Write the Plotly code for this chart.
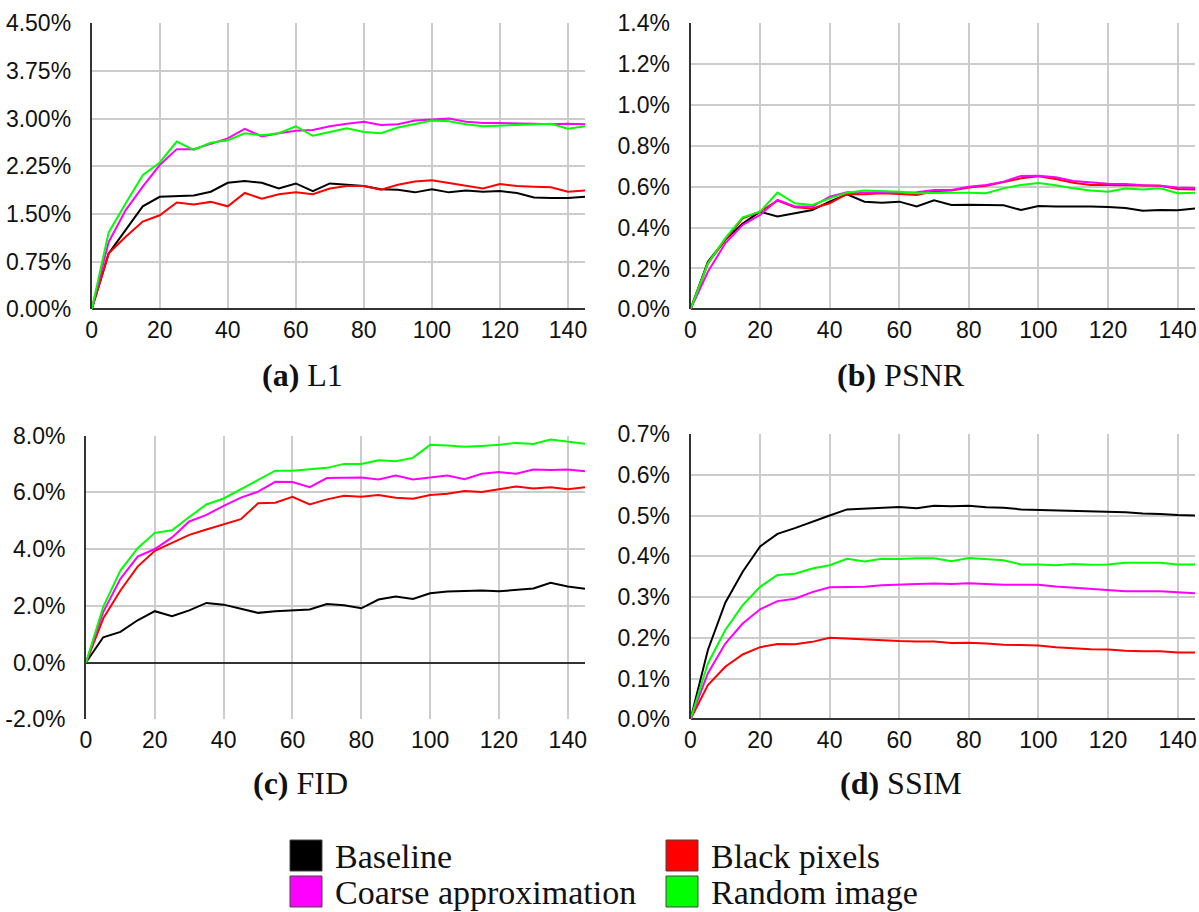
import plotly.graph_objects as go

W, H = 1199, 912

steps = [0, 5, 10, 15, 20, 25, 30, 35, 40, 45, 50, 55, 60, 65, 70, 75, 80, 85, 90, 95,
         100, 105, 110, 115, 120, 125, 130, 135, 140, 145]

# (a) L1
l1_baseline = [0, 0.88, 1.25, 1.62, 1.77, 1.78, 1.79, 1.85, 1.99, 2.02, 1.99, 1.90, 1.98, 1.86, 1.98,
               1.96, 1.94, 1.89, 1.88, 1.84, 1.89, 1.84, 1.87, 1.85, 1.86, 1.83, 1.76, 1.75, 1.75, 1.77]
l1_black = [0, 0.88, 1.14, 1.38, 1.48, 1.68, 1.65, 1.69, 1.62, 1.83, 1.74, 1.81, 1.84, 1.81, 1.90,
            1.94, 1.94, 1.88, 1.96, 2.01, 2.03, 1.99, 1.94, 1.90, 1.97, 1.94, 1.93, 1.92, 1.85, 1.87]
l1_coarse = [0, 1.06, 1.56, 1.93, 2.27, 2.52, 2.52, 2.61, 2.69, 2.84, 2.72, 2.77, 2.81, 2.82, 2.88,
             2.92, 2.95, 2.90, 2.91, 2.97, 2.98, 3.00, 2.95, 2.93, 2.93, 2.93, 2.92, 2.91, 2.92, 2.91]
l1_random = [0, 1.21, 1.67, 2.11, 2.31, 2.64, 2.51, 2.62, 2.66, 2.77, 2.74, 2.77, 2.88, 2.73, 2.79,
             2.85, 2.79, 2.77, 2.86, 2.92, 2.97, 2.96, 2.91, 2.88, 2.89, 2.91, 2.91, 2.92, 2.84, 2.88]

# (b) PSNR
psnr_baseline = [0, 0.233, 0.340, 0.420, 0.478, 0.454, 0.470, 0.486, 0.527, 0.563, 0.527, 0.522, 0.527,
                 0.503, 0.534, 0.511, 0.512, 0.509, 0.509, 0.486, 0.506, 0.503, 0.504, 0.503, 0.501,
                 0.496, 0.483, 0.486, 0.485, 0.493]
psnr_black = [0, 0.225, 0.340, 0.445, 0.478, 0.532, 0.500, 0.494, 0.519, 0.565, 0.563, 0.568, 0.565,
              0.560, 0.578, 0.581, 0.596, 0.605, 0.623, 0.641, 0.651, 0.638, 0.620, 0.609, 0.609,
              0.607, 0.604, 0.605, 0.589, 0.587]
psnr_coarse = [0, 0.184, 0.323, 0.413, 0.462, 0.535, 0.503, 0.503, 0.551, 0.573, 0.571, 0.573, 0.571,
               0.573, 0.584, 0.584, 0.600, 0.609, 0.625, 0.653, 0.654, 0.646, 0.628, 0.622, 0.615,
               0.613, 0.607, 0.605, 0.596, 0.594]
psnr_random = [0, 0.225, 0.348, 0.450, 0.478, 0.571, 0.519, 0.511, 0.543, 0.571, 0.581, 0.579, 0.576,
               0.568, 0.571, 0.571, 0.571, 0.568, 0.592, 0.609, 0.618, 0.607, 0.592, 0.581, 0.576,
               0.591, 0.586, 0.592, 0.568, 0.571]

# (c) FID
fid_baseline = [0, 0.89, 1.08, 1.49, 1.81, 1.63, 1.84, 2.10, 2.04, 1.90, 1.75, 1.81, 1.84, 1.87, 2.06,
                2.02, 1.91, 2.22, 2.33, 2.24, 2.44, 2.50, 2.52, 2.54, 2.51, 2.55, 2.61, 2.81, 2.68, 2.60]
fid_black = [0, 1.55, 2.54, 3.38, 3.94, 4.22, 4.50, 4.69, 4.87, 5.05, 5.61, 5.63, 5.84, 5.57, 5.75,
             5.88, 5.84, 5.90, 5.81, 5.77, 5.90, 5.95, 6.04, 6.01, 6.11, 6.20, 6.13, 6.18, 6.11, 6.18]
fid_coarse = [0, 1.78, 2.95, 3.73, 4.00, 4.41, 4.97, 5.20, 5.52, 5.81, 6.02, 6.37, 6.36, 6.18, 6.50,
              6.50, 6.52, 6.45, 6.59, 6.45, 6.53, 6.59, 6.46, 6.65, 6.71, 6.65, 6.80, 6.78, 6.80, 6.74]
fid_random = [0, 1.96, 3.24, 4.03, 4.57, 4.66, 5.13, 5.57, 5.78, 6.10, 6.45, 6.76, 6.76, 6.82, 6.86,
              7.00, 7.00, 7.13, 7.09, 7.21, 7.67, 7.65, 7.60, 7.63, 7.67, 7.74, 7.70, 7.86, 7.78, 7.71]

# (d) SSIM
ssim_baseline = [0, 0.170, 0.286, 0.362, 0.424, 0.455, 0.469, 0.485, 0.500, 0.515, 0.517, 0.518, 0.521,
                 0.518, 0.524, 0.523, 0.524, 0.520, 0.519, 0.515, 0.514, 0.513, 0.512, 0.510, 0.509,
                 0.508, 0.505, 0.504, 0.501, 0.500]
ssim_black = [0, 0.084, 0.129, 0.159, 0.177, 0.185, 0.184, 0.190, 0.200, 0.198, 0.195, 0.194, 0.192,
              0.191, 0.191, 0.187, 0.188, 0.186, 0.183, 0.182, 0.181, 0.177, 0.174, 0.172, 0.171,
              0.168, 0.167, 0.167, 0.164, 0.164]
ssim_coarse = [0, 0.113, 0.186, 0.235, 0.270, 0.290, 0.296, 0.312, 0.324, 0.324, 0.325, 0.329, 0.331,
               0.332, 0.333, 0.332, 0.334, 0.332, 0.330, 0.330, 0.330, 0.326, 0.323, 0.320, 0.316,
               0.314, 0.314, 0.314, 0.312, 0.309]
ssim_random = [0, 0.137, 0.219, 0.280, 0.325, 0.354, 0.357, 0.370, 0.378, 0.394, 0.387, 0.394, 0.393,
               0.395, 0.395, 0.388, 0.396, 0.393, 0.390, 0.380, 0.380, 0.378, 0.381, 0.379, 0.380,
               0.384, 0.384, 0.384, 0.380, 0.380]

series_names = ["Baseline", "Black pixels", "Coarse approximation", "Random image"]
series_colors = ["#000000", "#ff0000", "#ff00ff", "#00ff00"]

x_ticks = [0, 20, 40, 60, 80, 100, 120, 140]
l1_yticks = [0, 0.75, 1.5, 2.25, 3.0, 3.75, 4.5]
psnr_yticks = [0, 0.2, 0.4, 0.6, 0.8, 1.0, 1.2, 1.4]
fid_yticks = [-2, 0, 2, 4, 6, 8]
ssim_yticks = [0, 0.1, 0.2, 0.3, 0.4, 0.5, 0.6, 0.7]

panels = [
    dict(caption="<b>(a)</b> L1", data=[l1_baseline, l1_black, l1_coarse, l1_random],
         yt=l1_yticks, dec=2, yr=[0, 4.5]),
    dict(caption="<b>(b)</b> PSNR", data=[psnr_baseline, psnr_black, psnr_coarse, psnr_random],
         yt=psnr_yticks, dec=1, yr=[0, 1.4]),
    dict(caption="<b>(c)</b> FID", data=[fid_baseline, fid_black, fid_coarse, fid_random],
         yt=fid_yticks, dec=1, yr=[-2, 8]),
    dict(caption="<b>(d)</b> SSIM", data=[ssim_baseline, ssim_black, ssim_coarse, ssim_random],
         yt=ssim_yticks, dec=1, yr=[0, 0.7]),
]

# plot-area pixel boxes: (left, right, top, bottom)
boxes = [(91.7, 585, 23.3, 309.3), (690.5, 1195, 23.3, 309.3),
         (86, 585, 435.5, 719.3), (690.5, 1195, 434, 719.3)]
caption_pos = [(303, 375), (901, 375), (300, 783), (901, 783)]

fig = go.Figure()
layout = dict(width=W, height=H, margin=dict(l=0, r=0, t=0, b=0, pad=0, autoexpand=False),
              paper_bgcolor="white", plot_bgcolor="white", showlegend=False)
annotations = []
shapes = []

tick_font = dict(family="Liberation Sans, Arial, sans-serif", size=23, color="#111111")
serif = "Liberation Serif, DejaVu Serif, serif"

for i, p in enumerate(panels):
    n = "" if i == 0 else str(i + 1)
    l, r, t, b = boxes[i]
    layout["xaxis" + n] = dict(
        domain=[l / W, r / W], range=[0, 145], anchor="y" + n, automargin=False,
        tickvals=x_ticks, ticks="", showgrid=True, gridcolor="#cccccc", gridwidth=2,
        zeroline=False, showline=False, tickfont=tick_font, ticklabelstandoff=5,
        fixedrange=True)
    layout["yaxis" + n] = dict(
        domain=[1 - b / H, 1 - t / H], range=p["yr"], anchor="x" + n, automargin=False,
        tickvals=p["yt"], ticktext=[f"{v:.{p['dec']}f}%" for v in p["yt"]], ticks="",
        showgrid=True, gridcolor="#cccccc", gridwidth=2,
        zeroline=True, zerolinecolor="#333333", zerolinewidth=2,
        showline=True, linecolor="#333333", linewidth=2,
        tickfont=tick_font, ticklabelstandoff=14, fixedrange=True)
    for s, vals in enumerate(p["data"]):
        fig.add_trace(go.Scatter(x=steps, y=vals, mode="lines", name=series_names[s],
                                 line=dict(color=series_colors[s], width=2),
                                 xaxis="x" + n, yaxis="y" + n, hoverinfo="skip"))
    cx, cy = caption_pos[i]
    annotations.append(dict(text=p["caption"], x=cx / W, y=1 - cy / H, xref="paper", yref="paper",
                            xanchor="center", yanchor="middle", showarrow=False,
                            font=dict(family=serif, size=32, color="#111111")))

# legend (2 x 2 grid of colour squares with labels)
legend_cells = [(0, 0), (0, 1), (1, 0), (1, 1)]  # (row, col) per series
legend_cols_x = [290, 666]
legend_rows_y = [840, 876]
for s, (row, col) in enumerate(legend_cells):
    x0 = legend_cols_x[col]
    y0 = legend_rows_y[row]
    shapes.append(dict(type="rect", xref="paper", yref="paper",
                       x0=x0 / W, x1=(x0 + 32) / W, y0=1 - (y0 + 31) / H, y1=1 - y0 / H,
                       fillcolor=series_colors[s], line=dict(color="#444444", width=1)))
    annotations.append(dict(text=series_names[s], x=(x0 + 43) / W, y=1 - (y0 + 16) / H,
                            xref="paper", yref="paper", xanchor="left", yanchor="middle",
                            showarrow=False,
                            font=dict(family=serif, size=34, color="#111111")))

layout["annotations"] = annotations
layout["shapes"] = shapes
fig.update_layout(**layout)
fig.write_html("out.html")
